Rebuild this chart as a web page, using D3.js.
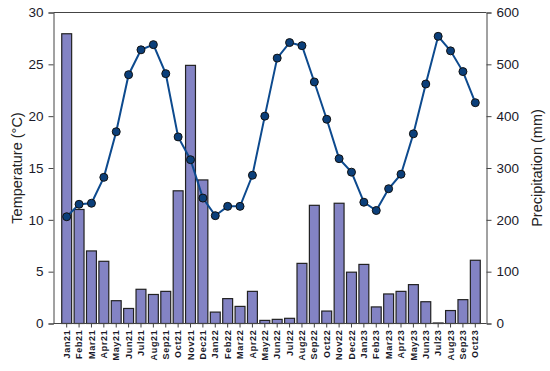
<!DOCTYPE html>
<html>
<head>
<meta charset="utf-8">
<script src="https://cdn.jsdelivr.net/npm/d3@7"></script>
<style>
  body { margin: 0; background: #fff; }
  svg text { font-family: Arial, "Liberation Sans", sans-serif; }
</style>
</head>
<body>
<svg id="chart" width="550" height="371"></svg>
<script>
const months = ["Jan21","Feb21","Mar21","Apr21","May21","Jun21","Jul21","Aug21","Sep21","Oct21","Nov21","Dec21",
	"Jan22","Feb22","Mar22","Apr22","May22","Jun22","Jul22","Aug22","Sep22","Oct22","Nov22","Dec22",
	"Jan23","Feb23","Mar23","Apr23","May23","Jun23","Jul23","Aug23","Sep23","Oct23"];
const temperature = [10.3, 11.5, 11.6, 14.1, 18.5, 24.0, 26.4, 26.9, 24.1, 18.0, 15.8, 12.1,
	10.4, 11.3, 11.3, 14.3, 20.0, 25.6, 27.1, 26.8, 23.3, 19.7, 15.9, 14.6,
	11.7, 10.9, 13.0, 14.4, 18.3, 23.1, 27.7, 26.3, 24.3, 21.3];
const precipitation = [559, 220, 140, 120, 44, 29, 66, 56, 62, 256, 498, 277,
	22, 48, 33, 62, 6, 8, 10, 116, 228, 24, 232, 99,
	114, 32, 57, 62, 75, 42, 1, 25, 46, 122];
const tempTicks = [0, 5, 10, 15, 20, 25, 30];
const precTicks = [0, 100, 200, 300, 400, 500, 600];

const svg = d3.select("#chart");
const mLeft = 53.5, mRight = 486.5, mTop = 12.5, mBottom = 323.5;

const x = d3.scaleBand()
	.domain(months)
	.range([mLeft + 7, mRight - 5])
	.paddingInner(0.2)
	.paddingOuter(0.1);
const yT = d3.scaleLinear().domain([0, 30]).range([mBottom, mTop]);
const yP = d3.scaleLinear().domain([0, 600]).range([mBottom, mTop]);

// bars
svg.append("g")
	.selectAll("rect")
	.data(precipitation)
	.enter()
	.append("rect")
	.attr("x", function(d, i) { return x(months[i]) })
	.attr("y", function(d) { return yP(d) })
	.attr("width", x.bandwidth())
	.attr("height", function(d) { return yP(0) - yP(d) })
	.attr("fill", "#8383c4")
	.attr("stroke", "#222")
	.attr("stroke-width", 1.2);

// frame top line
svg.append("line")
	.attr("x1", mLeft).attr("x2", mRight)
	.attr("y1", mTop).attr("y2", mTop)
	.attr("stroke", "#444").attr("stroke-width", 1);

// left axis
const axL = svg.append("g")
	.attr("transform", "translate(" + mLeft + ",0)")
	.call(d3.axisLeft(yT).tickValues(tempTicks).tickSize(5).tickPadding(5));
// right axis
const axR = svg.append("g")
	.attr("transform", "translate(" + mRight + ",0)")
	.call(d3.axisRight(yP).tickValues(precTicks).tickSize(5).tickPadding(5));
// bottom axis
const axB = svg.append("g")
	.attr("transform", "translate(0," + mBottom + ")")
	.call(d3.axisBottom(x).tickSize(4).tickSizeOuter(0).tickPadding(3));

[axL, axR].forEach(function(ax) {
	ax.select(".domain").attr("stroke", "#444");
	ax.selectAll(".tick line").attr("stroke", "#444");
	ax.selectAll("text").attr("font-size", 13.5).attr("fill", "#1a1a2a");
});
axB.select(".domain").attr("stroke", "#444").attr("d", "M" + mLeft + ",0H" + mRight);
axB.selectAll(".tick line").attr("stroke", "#444");
axB.selectAll("text")
	.attr("font-size", 9)
	.attr("font-weight", "bold")
	.attr("letter-spacing", 0.7)
	.attr("fill", "#1a1a2a")
	.attr("transform", "rotate(-90)")
	.attr("text-anchor", "end")
	.attr("dy", "0.35em")
	.attr("y", 0)
	.attr("x", -6);

// temperature line
const line = d3.line()
	.x(function(d, i) { return x(months[i]) + x.bandwidth() / 2 })
	.y(function(d) { return yT(d) });
svg.append("path")
	.datum(temperature)
	.attr("d", line)
	.attr("fill", "none")
	.attr("stroke", "#0d4a8e")
	.attr("stroke-width", 2);
svg.append("g")
	.selectAll("circle")
	.data(temperature)
	.enter()
	.append("circle")
	.attr("cx", function(d, i) { return x(months[i]) + x.bandwidth() / 2 })
	.attr("cy", function(d) { return yT(d) })
	.attr("r", 4)
	.attr("fill", "#0b3f7a")
	.attr("stroke", "#111")
	.attr("stroke-width", 1);

// axis titles
svg.append("text")
	.attr("transform", "translate(17," + ((mTop + mBottom) / 2) + ") rotate(-90)")
	.attr("text-anchor", "middle")
	.attr("dy", "0.35em")
	.attr("font-size", 14.5)
	.attr("fill", "#222")
	.text("Temperature (°C)");
svg.append("text")
	.attr("transform", "translate(537," + ((mTop + mBottom) / 2) + ") rotate(-90)")
	.attr("text-anchor", "middle")
	.attr("dy", "0.35em")
	.attr("font-size", 14.5)
	.attr("fill", "#222")
	.text("Precipitation (mm)");
</script>
</body>
</html>
